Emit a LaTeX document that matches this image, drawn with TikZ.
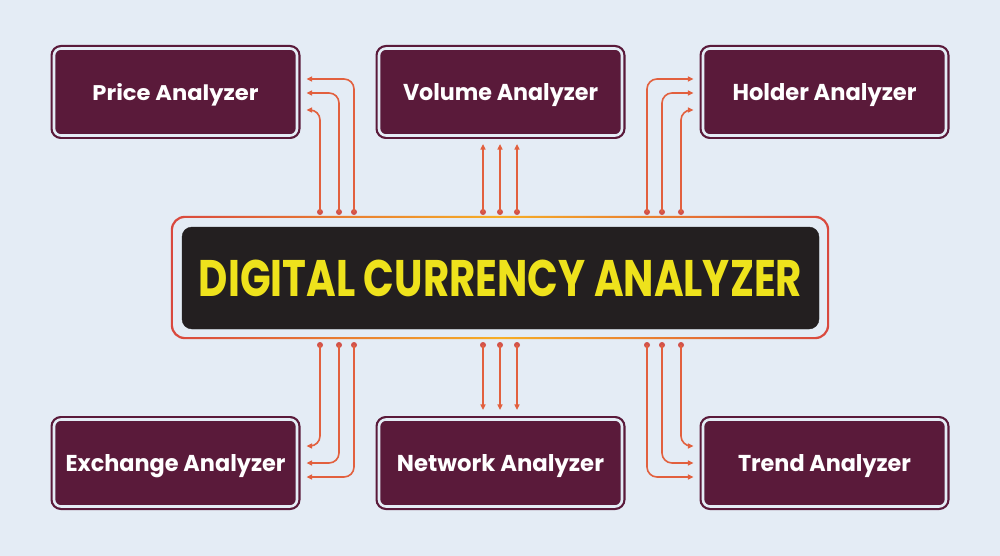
\documentclass[tikz,border=0pt]{standalone}
\usepackage{fontspec}
\setmainfont{Poppins}
\usetikzlibrary{arrows.meta,calc}
\definecolor{bgc}{HTML}{E4ECF5}
\definecolor{maroon}{HTML}{5A1A3A}
\definecolor{titlebg}{HTML}{231F20}
\definecolor{titlefg}{HTML}{EEE21C}
\definecolor{connc}{HTML}{E2603E}
\definecolor{dotc}{HTML}{D2524A}
\definecolor{frred}{HTML}{D9483E}
\definecolor{fryel}{HTML}{F6AE26}
\newcommand{\lab}[2]{\resizebox{#1}{17pt}{\bfseries #2}}
\begin{document}
\begin{tikzpicture}[x=1pt,y=-1pt,
  anbox/.style={fill=maroon, draw=maroon, line width=2.2pt, double=bgc, double distance=2.6pt,
    rounded corners=7pt, minimum width=243pt, minimum height=87pt, inner sep=0pt,
    text=white, text height=17pt, text depth=0pt, align=center},
  dot/.style={circle, fill=dotc, inner sep=0pt, minimum size=6pt},
  conn/.style={draw=connc, line width=1.6pt, rounded corners=10pt,
    -{Triangle[length=5.5pt,width=5pt]}},
  straight/.style={draw=connc, line width=1.6pt,
    -{Triangle[length=5.5pt,width=5pt]}}
]
\useasboundingbox (0,0) rectangle (1000,556);
\fill[bgc] (0,0) rectangle (1000,556);

% boxes
\node[anbox] (price) at (175.5,92) {\lab{166pt}{Price Analyzer}};
\node[anbox] (vol) at (500.5,92) {\lab{195pt}{Volume Analyzer}};
\node[anbox] (hold) at (824.5,92) {\lab{184pt}{Holder Analyzer}};
\node[anbox] (exch) at (175.5,463) {\lab{220pt}{Exchange Analyzer}};
\node[anbox] (net) at (500.5,463) {\lab{207pt}{Network Analyzer}};
\node[anbox] (trend) at (824.5,463) {\lab{173pt}{Trend Analyzer}};

% center
\node[minimum width=658pt, minimum height=123pt, inner sep=0pt] (frame) at (500,277.5) {};
\shade[left color=frred, right color=frred, middle color=fryel, even odd rule]
  [rounded corners=14pt] (frame.north west) rectangle (frame.south east)
  [rounded corners=12.5pt] ($(frame.north west)+(2,2)$) rectangle ($(frame.south east)+(-2,-2)$);
\node[fill=titlebg, draw=titlebg, rounded corners=10pt, minimum width=637pt, minimum height=102pt,
  inner sep=0pt, text=titlefg, text height=36.5pt, text depth=0pt] (title) at (500.5,278)
  {\resizebox{603pt}{36.5pt}{\bfseries DIGITAL CURRENCY ANALYZER}};

% connector start dots
\foreach \n/\x/\y in {pl1/320/212, pl2/339/212, pl3/354/212,
                      vm1/483/212, vm2/500/212, vm3/517/212,
                      hr1/647/212, hr2/662/212, hr3/681/212,
                      el1/320/345, el2/339/345, el3/354/345,
                      nm1/483/345, nm2/500/345, nm3/517/345,
                      tr1/647/345, tr2/662/345, tr3/681/345}
  \node[dot] (\n) at (\x,\y) {};

% top-left
\draw[conn] (pl1.center) |- ($(price.east)+(8.5,18)$);
\draw[conn] (pl2.center) |- ($(price.east)+(8.5,1)$);
\draw[conn] (pl3.center) |- ($(price.east)+(8.5,-13)$);
% top-mid
\draw[straight] (vm1.center) -- ($(vm1 |- vol.south)+(0,7.5)$);
\draw[straight] (vm2.center) -- ($(vm2 |- vol.south)+(0,7.5)$);
\draw[straight] (vm3.center) -- ($(vm3 |- vol.south)+(0,7.5)$);
% top-right
\draw[conn] (hr1.center) |- ($(hold.west)+(-8.5,-13)$);
\draw[conn] (hr2.center) |- ($(hold.west)+(-8.5,1)$);
\draw[conn] (hr3.center) |- ($(hold.west)+(-8.5,18)$);
% bottom-left
\draw[conn] (el1.center) |- ($(exch.east)+(8.5,-17)$);
\draw[conn] (el2.center) |- ($(exch.east)+(8.5,0)$);
\draw[conn] (el3.center) |- ($(exch.east)+(8.5,14)$);
% bottom-mid
\draw[straight] (nm1.center) -- ($(nm1 |- net.north)+(0,-8.5)$);
\draw[straight] (nm2.center) -- ($(nm2 |- net.north)+(0,-8.5)$);
\draw[straight] (nm3.center) -- ($(nm3 |- net.north)+(0,-8.5)$);
% bottom-right
\draw[conn] (tr1.center) |- ($(trend.west)+(-8.5,14)$);
\draw[conn] (tr2.center) |- ($(trend.west)+(-8.5,0)$);
\draw[conn] (tr3.center) |- ($(trend.west)+(-8.5,-17)$);
\end{tikzpicture}
\end{document}
